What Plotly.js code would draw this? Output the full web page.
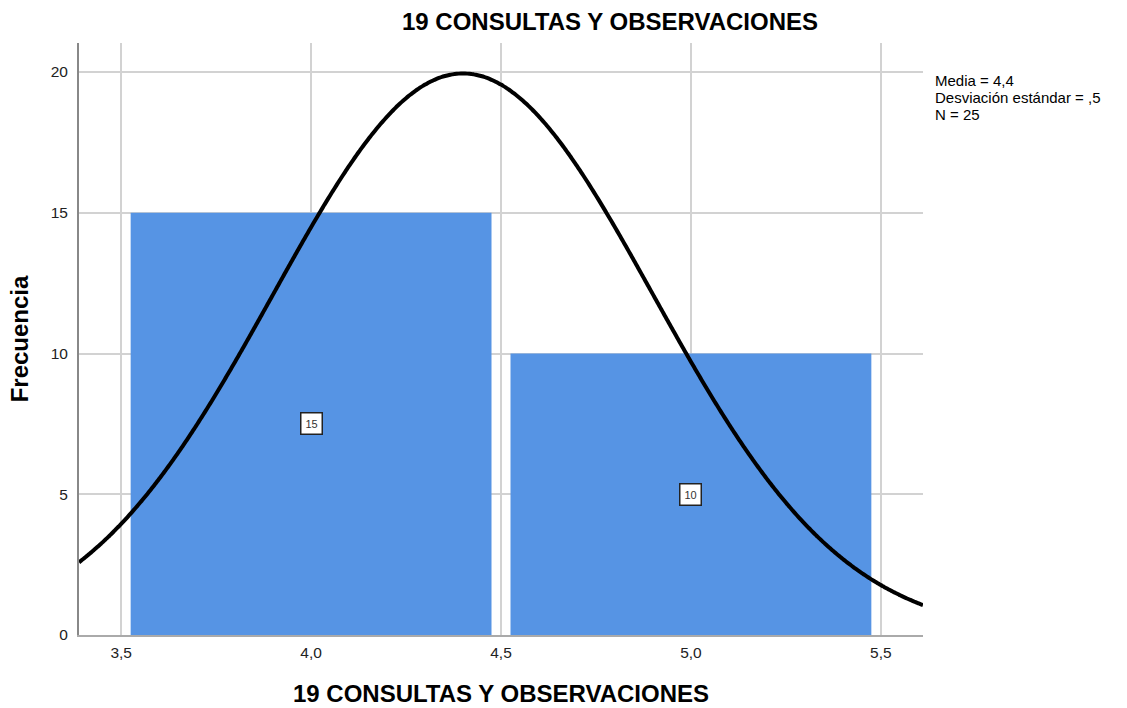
<!DOCTYPE html>
<html>
<head>
<meta charset="utf-8">
<script src="https://cdn.plot.ly/plotly-3.0.1.min.js"></script>
<style>html,body{margin:0;padding:0;background:#fff;}#chart{width:1127px;height:708px;}</style>
</head>
<body>
<div id="chart"></div>
<script>
// Data
const binCenters = [4.0, 5.0];
const frequencies = [15, 10];
const binWidth = 0.95;
const statMean = 4.4;
const statSd = 0.5;
const statN = 25;
const xTickVals = [3.5, 4.0, 4.5, 5.0, 5.5];
const xTickText = ["3,5", "4,0", "4,5", "5,0", "5,5"];
const yTickVals = [0, 5, 10, 15, 20];
const statLines = ["Media = 4,4", "Desviación estándar = ,5", "N = 25"];
const chartTitle = "19 CONSULTAS Y OBSERVACIONES";
const xTitle = "19 CONSULTAS Y OBSERVACIONES";
const yTitle = "Frecuencia";

// Normal curve implied by the displayed statistics (N * unit bin * pdf)
const xRange = [3.389, 5.611];
const curveX = [], curveY = [];
for (let i = 0; i <= 400; i++) {
  const x = xRange[0] + (xRange[1] - xRange[0]) * i / 400;
  const z = (x - statMean) / statSd;
  curveX.push(x);
  curveY.push(statN * 1.0 / (statSd * Math.sqrt(2 * Math.PI)) * Math.exp(-0.5 * z * z));
}

const font = "Liberation Sans, Arial, sans-serif";

const traces = [
  {
    type: "bar", x: binCenters, y: frequencies, width: binWidth,
    marker: {color: "#5694e4", line: {width: 0}},
    hoverinfo: "skip"
  },
  {
    type: "scatter", mode: "lines", x: curveX, y: curveY,
    line: {color: "#000", width: 4, shape: "spline"}, hoverinfo: "skip"
  }
];

const annotations = binCenters.map((c, i) => ({
  x: c, y: frequencies[i] / 2, xref: "x", yref: "y",
  text: String(frequencies[i]), showarrow: false,
  font: {family: font, size: 11, color: "#333"},
  bgcolor: "#fff", bordercolor: "#222", borderwidth: 1.5, borderpad: 4
}));
statLines.forEach((line, i) => {
  annotations.push({
    xref: "paper", yref: "paper", x: 1.0118, y: (635 - 81 - 17 * i) / 592,
    xanchor: "left", yanchor: "middle",
    align: "left", showarrow: false, text: line,
    font: {family: font, size: 15, color: "#000"}
  });
});

const layout = {
  width: 1127, height: 708,
  margin: {l: 79, r: 204, t: 43, b: 73},
  paper_bgcolor: "#fff", plot_bgcolor: "#fff",
  showlegend: false,
  separators: ", ",
  font: {family: font, color: "#000"},
  title: {
    text: "<b>" + chartTitle + "</b>", x: 610 / 1127, xanchor: "center",
    y: 1 - 22 / 708, yanchor: "middle",
    font: {family: font, size: 24, color: "#000"}
  },
  xaxis: {
    range: xRange, tickvals: xTickVals, ticktext: xTickText,
    showgrid: true, gridcolor: "#d2d2d2", gridwidth: 2,
    zeroline: false, showline: true, linecolor: "#aaaaaa", linewidth: 2,
    ticks: "", tickfont: {family: font, size: 15.5, color: "#222"},
    ticklabelstandoff: 2,
    title: {text: "<b>" + xTitle + "</b>", font: {family: font, size: 24, color: "#000"}, standoff: 26}
  },
  yaxis: {
    range: [0, 21.03], tickvals: yTickVals,
    showgrid: true, gridcolor: "#d2d2d2", gridwidth: 2,
    zeroline: false, showline: true, linecolor: "#888888", linewidth: 2,
    ticks: "", tickfont: {family: font, size: 15.5, color: "#222"},
    ticklabelstandoff: 6,
    title: {text: "<b>" + yTitle + "</b>", font: {family: font, size: 24, color: "#000"}, standoff: 15}
  },
  annotations: annotations
};

Plotly.newPlot("chart", traces, layout, {staticPlot: true, displayModeBar: false});
</script>
</body>
</html>
